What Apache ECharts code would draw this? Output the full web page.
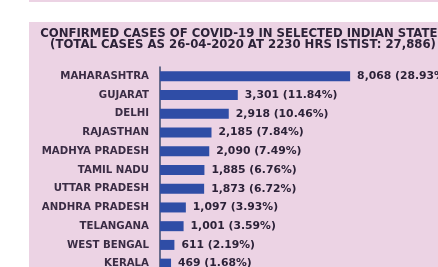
<!DOCTYPE html>
<html>
<head>
<meta charset="utf-8">
<script src="https://cdn.jsdelivr.net/npm/echarts@6/dist/echarts.min.js"></script>
<style>
  html, body { margin: 0; padding: 0; background: #ffffff; overflow: hidden; }
  #chart { width: 438px; height: 280px; }
</style>
</head>
<body>
<div id="chart"></div>
<script>
// data
const states = [
  'MAHARASHTRA', 'GUJARAT', 'DELHI', 'RAJASTHAN', 'MADHYA PRADESH',
  'TAMIL NADU', 'UTTAR PRADESH', 'ANDHRA PRADESH', 'TELANGANA',
  'WEST BENGAL', 'KERALA'
]
const cases = [8068, 3301, 2918, 2185, 2090, 1885, 1873, 1097, 1001, 611, 469]
const shares = ['28.93', '11.84', '10.46', '7.84', '7.49', '6.76', '6.72', '3.93', '3.59', '2.19', '1.68']

const titleLines = [
  'CONFIRMED CASES OF COVID-19 IN SELECTED INDIAN STATES',
  '(TOTAL CASES AS 26-04-2020 AT 2230 HRS ISTIST: 27,886)'
]

const pink = '#ecd3e4'
const ink = '#2c2238'

const chart = echarts.init(document.getElementById('chart'))

const option = {
  backgroundColor: '#ffffff',
  animation: false,
  graphic: [
    // pink panel + thin strip at the very top
    {type: 'rect', shape: {x: 29, y: 0, width: 409, height: 2}, style: {fill: pink}, z: -10},
    {type: 'rect', shape: {x: 29, y: 22, width: 409, height: 260}, style: {fill: pink}, z: -10}
  ],
  title: {
    text: titleLines.join('\n'),
    left: 243,
    top: 28,
    textAlign: 'center',
    padding: 0,
    textStyle: {
      fontFamily: 'DejaVu Sans',
      fontWeight: 'bold',
      fontSize: 11.7,
      lineHeight: 11,
      color: ink
    }
  },
  grid: {
    left: 160,
    right: 7,
    top: 67,
    bottom: 7
  },
  xAxis: {
    type: 'value',
    min: 0,
    max: 11500,
    show: false
  },
  yAxis: {
    type: 'category',
    data: states,
    inverse: true,
    axisLine: {show: true, lineStyle: {color: '#3d4a6e', width: 1.5}},
    axisTick: {show: false},
    axisLabel: {
      margin: 11,
      fontFamily: 'DejaVu Sans',
      fontWeight: 'bold',
      fontSize: 10.2,
      color: '#3a2c44'
    }
  },
  series: [
    {
      type: 'bar',
      data: cases,
      barWidth: 10,
      itemStyle: {color: '#2f4da6'},
      label: {
        show: true,
        position: 'right',
        distance: 7,
        fontFamily: 'DejaVu Sans',
        fontWeight: 'bold',
        fontSize: 10.8,
        color: ink,
        formatter: (p) => p.value.toLocaleString('en-US') + ' (' + shares[p.dataIndex] + '%)'
      }
    }
  ]
}

chart.setOption(option)
</script>
</body>
</html>
